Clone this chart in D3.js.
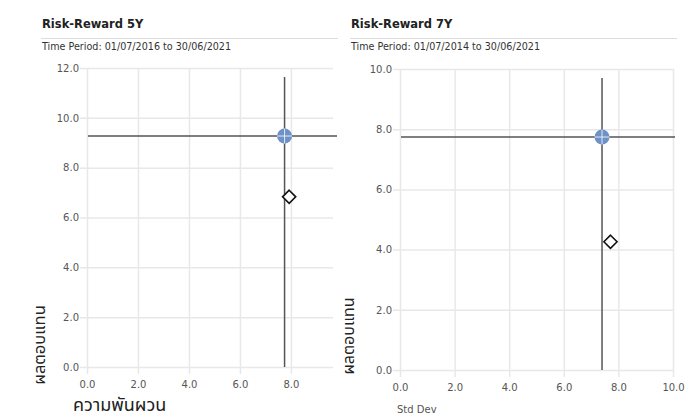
<!DOCTYPE html>
<html>
<head>
<meta charset="utf-8">
<script src="https://cdn.jsdelivr.net/npm/d3@7/dist/d3.min.js"></script>
<style>
  html, body { margin: 0; padding: 0; background: #fff; }
  svg { display: block; }
</style>
</head>
<body>
<svg id="chart" width="691" height="418"></svg>
<script>
// ---- data ----
const panelTitles = ["Risk-Reward 5Y", "Risk-Reward 7Y"];
const periodTexts = ["Time Period: 01/07/2016 to 30/06/2021", "Time Period: 01/07/2014 to 30/06/2021"];
const xTitles = ["ความพันผวน", "Std Dev"];
const yTitles = ["ผลตอบแทน", "ผลตอบแทน"];
const fundStdDev = [7.75, 7.40];
const fundReturn = [9.27, 7.74];
const benchStdDev = [7.93, 7.71];
const benchReturn = [6.83, 4.26];
const xMaxes = [9.65, 10];
const yMaxes = [12, 10];
const xTicks5Y = [0, 2, 4, 6, 8];
const yTicks5Y = [0, 2, 4, 6, 8, 10, 12];
const xTicks7Y = [0, 2, 4, 6, 8, 10];
const yTicks7Y = [0, 2, 4, 6, 8, 10];
const xTickSets = [xTicks5Y, xTicks7Y];
const yTickSets = [yTicks5Y, yTicks7Y];

// ---- layout ----
const layouts = [
  { titleX: 42, ruleX2: 338, left: 87, right: 333, top: 68, bottom: 367,
    xTitle: { x: 73, y: 411, size: 18, color: "#222", anchor: "start" },
    yTitle: { x: 45, y: 345, size: 16.5 } },
  { titleX: 351, ruleX2: 677, left: 400, right: 673, top: 69, bottom: 370,
    xTitle: { x: 397, y: 413, size: 10, color: "#555", anchor: "start" },
    yTitle: { x: 354, y: 336, size: 16 } }
];

const svg = d3.select("#chart");
const baseFont = "'DejaVu Sans', Verdana, sans-serif";
const thaiFont = "'Noto Sans Thai', 'Noto Sans', 'DejaVu Sans', sans-serif";

panelTitles.forEach((title, i) => {
  const L = layouts[i];
  const g = svg.append("g");

  g.append("text").attr("x", L.titleX).attr("y", 28)
    .attr("font-family", baseFont).attr("font-size", 11.5).attr("font-weight", "bold")
    .attr("fill", "#222").text(title);
  g.append("line").attr("x1", L.titleX - 1).attr("x2", L.ruleX2)
    .attr("y1", 38.5).attr("y2", 38.5).attr("stroke", "#ddd").attr("stroke-width", 1);
  g.append("text").attr("x", L.titleX).attr("y", 49.5)
    .attr("font-family", baseFont).attr("font-size", 9.6)
    .attr("fill", "#333").text(periodTexts[i]);

  const x = d3.scaleLinear().domain([0, xMaxes[i]]).range([L.left, L.right]);
  const y = d3.scaleLinear().domain([0, yMaxes[i]]).range([L.bottom, L.top]);

  // y axis with gridlines
  const yAxis = d3.axisLeft(y).tickValues(yTickSets[i]).tickFormat(d3.format(".1f"))
    .tickSize(-(L.right - L.left)).tickPadding(8);
  const ya = g.append("g").attr("transform", `translate(${L.left},0)`).call(yAxis);
  ya.select(".domain").remove();
  ya.selectAll(".tick line").attr("stroke", "#e8e8e8").attr("stroke-width", 1.5)
    .attr("x1", -7);
  ya.selectAll(".tick text").attr("font-family", baseFont).attr("font-size", 10)
    .attr("fill", "#555").attr("x", -8);

  const xAxis = d3.axisBottom(x).tickValues(xTickSets[i]).tickFormat(d3.format(".1f"))
    .tickSize(-(L.bottom - L.top)).tickPadding(12);
  const xa = g.append("g").attr("transform", `translate(0,${L.bottom})`).call(xAxis);
  xa.select(".domain").remove();
  xa.selectAll(".tick line").attr("stroke", "#e8e8e8").attr("stroke-width", 1.5)
    .attr("y1", 7);
  xa.selectAll(".tick text").attr("font-family", baseFont).attr("font-size", 10)
    .attr("fill", "#555").attr("y", 14).attr("dy", "0.71em");

  // crosshair reference lines through the fund point
  g.append("line")
    .attr("x1", x(fundStdDev[i])).attr("x2", x(fundStdDev[i]))
    .attr("y1", L.top + 9).attr("y2", L.bottom)
    .attr("stroke", "#555").attr("stroke-width", 1.5);
  g.append("line")
    .attr("x1", L.left + 1).attr("x2", L.right + (i === 0 ? 4 : 2))
    .attr("y1", y(fundReturn[i])).attr("y2", y(fundReturn[i]))
    .attr("stroke", "#555").attr("stroke-width", 1.5);

  // fund point
  const fx = x(fundStdDev[i]), fy = y(fundReturn[i]);
  g.append("circle").attr("cx", fx).attr("cy", fy).attr("r", 7.5).attr("fill", "#6e92c8");
  g.append("line").attr("x1", fx - 7.5).attr("x2", fx + 7.5).attr("y1", fy).attr("y2", fy)
    .attr("stroke", "#fff").attr("stroke-width", 1).attr("opacity", 0.8);
  g.append("line").attr("x1", fx).attr("x2", fx).attr("y1", fy - 7.5).attr("y2", fy + 7.5)
    .attr("stroke", "#fff").attr("stroke-width", 1).attr("opacity", 0.8);

  // benchmark diamond
  g.append("path")
    .attr("d", d3.symbol().type(d3.symbolDiamond2).size(110)())
    .attr("transform", `translate(${x(benchStdDev[i])},${y(benchReturn[i])})`)
    .attr("fill", "#fff").attr("stroke", "#111").attr("stroke-width", 1.6);

  // axis titles
  g.append("text").attr("x", L.xTitle.x).attr("y", L.xTitle.y)
    .attr("font-family", i === 0 ? thaiFont : baseFont)
    .attr("font-size", L.xTitle.size).attr("fill", L.xTitle.color)
    .attr("text-anchor", L.xTitle.anchor).text(xTitles[i]);
  g.append("text")
    .attr("transform", `translate(${L.yTitle.x},${L.yTitle.y}) rotate(-90)`)
    .attr("font-family", thaiFont)
    .attr("font-size", L.yTitle.size).attr("fill", "#222")
    .attr("text-anchor", "middle").text(yTitles[i]);
});
</script>
</body>
</html>
